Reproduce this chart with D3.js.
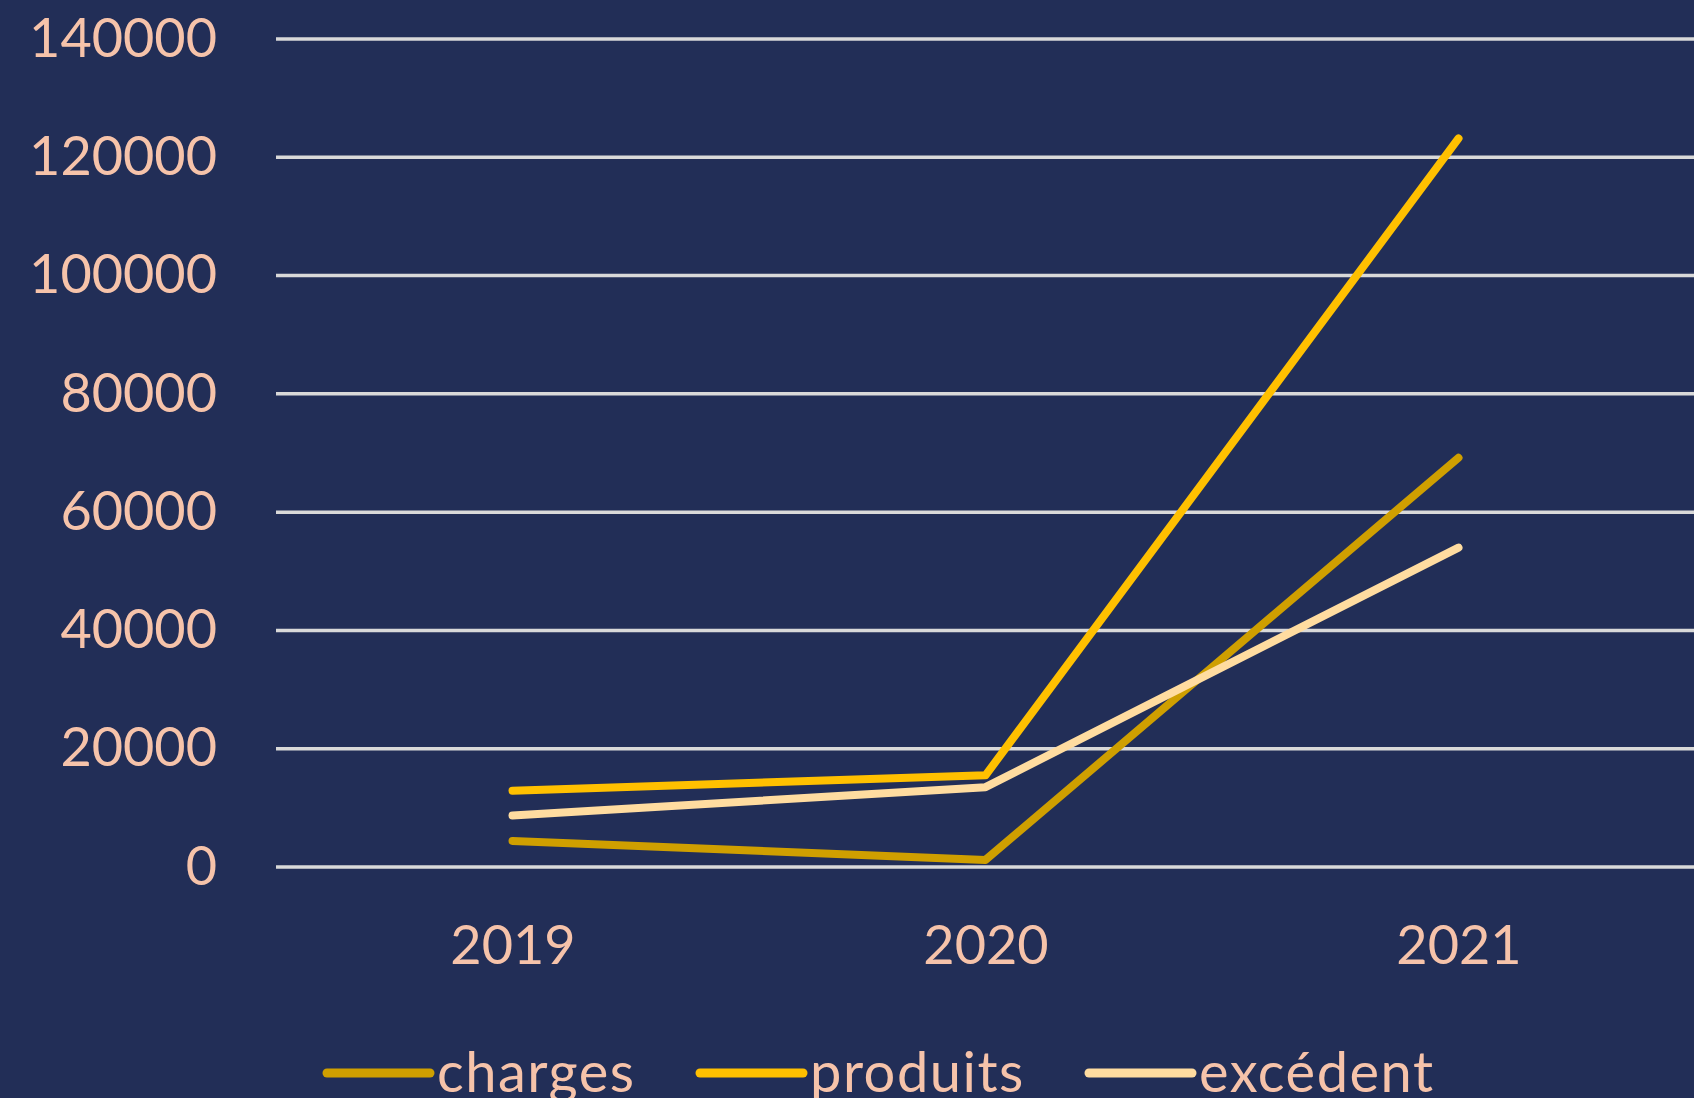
<!DOCTYPE html>
<html>
<head>
<meta charset="utf-8">
<script src="https://cdn.jsdelivr.net/npm/d3@7"></script>
<style>
  html, body { margin: 0; padding: 0; background: #222e57; overflow: hidden; }
  svg { display: block; }
</style>
</head>
<body>
<svg width="1694" height="1098"></svg>
<script>
// data
const years = ["2019", "2020", "2021"];
const charges = [4400, 1200, 69200];
const produits = [12900, 15500, 123200];
const excedent = [8700, 13500, 54000];
const yTicks = [0, 20000, 40000, 60000, 80000, 100000, 120000, 140000];

const series = [
    { name: "charges", values: charges, color: "#cf9f00" },
    { name: "produits", values: produits, color: "#ffc000" },
    { name: "excédent", values: excedent, color: "#ffdca0" }
];

const svg = d3.select("svg");
const textColor = "#f6c3aa";
const font = "Lato, 'Open Sans', sans-serif";

const x = d3.scalePoint().domain(years).range([276, 1695]).padding(0.5);
const y = d3.scaleLinear().domain([0, 140000]).range([867, 39]);

// gridlines
svg.append("g")
    .selectAll("line")
    .data(yTicks)
    .enter()
    .append("line")
    .attr("x1", 276)
    .attr("x2", 1694)
    .attr("y1", d => y(d))
    .attr("y2", d => y(d))
    .attr("stroke", "#d9d9d9")
    .attr("stroke-width", 3.5);

// y axis labels
const yAxis = svg.append("g")
    .attr("transform", "translate(217,0)")
    .call(d3.axisLeft(y).tickValues(yTicks).tickSize(0).tickPadding(0).tickFormat(d3.format("d")));
yAxis.select(".domain").remove();
yAxis.selectAll("text")
    .attr("fill", textColor)
    .style("font-family", font)
    .style("font-size", "54px");

// x axis labels
const xAxis = svg.append("g")
    .attr("transform", "translate(0,926)")
    .call(d3.axisBottom(x).tickSize(0).tickPadding(0));
xAxis.select(".domain").remove();
xAxis.selectAll("text")
    .attr("fill", textColor)
    .style("font-family", font)
    .style("font-size", "54px");

// lines
const line = d3.line()
    .x((d, i) => x(years[i]))
    .y(d => y(d));

svg.append("g")
    .selectAll("path")
    .data(series)
    .enter()
    .append("path")
    .attr("d", d => line(d.values))
    .attr("fill", "none")
    .attr("stroke", d => d.color)
    .attr("stroke-width", 8)
    .attr("stroke-linecap", "round")
    .attr("stroke-linejoin", "round");

// legend
const legendX = [327, 700, 1089];
const legend = svg.append("g")
    .selectAll("g")
    .data(series)
    .enter()
    .append("g")
    .attr("transform", (d, i) => `translate(${legendX[i]},1073)`);

legend.append("line")
    .attr("x1", 0)
    .attr("x2", 103)
    .attr("stroke", d => d.color)
    .attr("stroke-width", 9)
    .attr("stroke-linecap", "round");

legend.append("text")
    .attr("x", 110)
    .attr("y", 19)
    .attr("fill", textColor)
    .style("font-family", font)
    .style("font-size", "56px")
    .style("letter-spacing", "1.5px")
    .text(d => d.name);
</script>
</body>
</html>
